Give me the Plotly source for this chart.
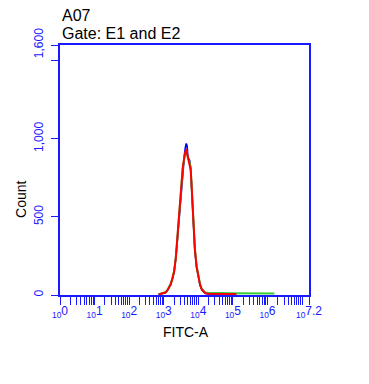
import plotly.graph_objects as go

# ---- data (log10 of FITC-A, counts) ----
exp_main = [2.85, 2.9, 2.95, 3.0, 3.05, 3.1, 3.15, 3.2, 3.25, 3.3, 3.35, 3.4, 3.45, 3.5,
            3.55, 3.6, 3.625, 3.65, 3.675, 3.7, 3.75, 3.78, 3.8, 3.85, 3.9, 3.95, 4.0,
            4.05, 4.1, 4.15, 4.2, 4.3, 4.4, 4.5, 4.6, 4.7, 4.8, 4.9, 5.0, 5.1]
red_counts = [3, 6, 9, 12, 16, 28, 45, 68, 105, 150, 240, 380, 530, 680,
              815, 890, 915, 935, 905, 880, 850, 800, 720, 460, 290, 180, 115,
              65, 35, 20, 12, 8, 7, 7, 6, 6, 7, 6, 6, 5]
blue_counts = [2, 5, 8, 11, 15, 27, 44, 66, 102, 148, 236, 375, 525, 675,
               820, 900, 945, 970, 955, 880, 860, 810, 715, 455, 285, 178, 112,
               62, 33, 18, 10, 6, 5, 4, 4, 3, 3, 3, 2, 2]

exp_green = [2.85, 2.9, 2.95, 3.0, 3.05, 3.1, 3.15, 3.2, 3.25, 3.3, 3.35, 3.4, 3.45, 3.5,
             3.55, 3.6, 3.625, 3.65, 3.675, 3.7, 3.75, 3.78, 3.8, 3.85, 3.9, 3.95, 4.0,
             4.05, 4.1, 4.15, 4.2, 4.3, 4.4, 4.5, 4.7, 4.9, 5.1, 5.3, 5.5, 5.7, 5.9, 6.1, 6.2]
green_counts = [5, 8, 10, 13, 17, 30, 47, 70, 107, 152, 242, 378, 528, 678,
                812, 885, 912, 930, 900, 875, 848, 805, 725, 468, 298, 186, 120,
                70, 40, 24, 16, 13, 12, 12, 13, 12, 12, 13, 12, 12, 13, 12, 10]

# ---- ticks ----
x_major_exp = [0, 1, 2, 3, 4, 5, 6, 7.2]
x_major_text = ["<sub>10</sub>0", "<sub>10</sub>1", "<sub>10</sub>2", "<sub>10</sub>3",
                "<sub>10</sub>4", "<sub>10</sub>5", "<sub>10</sub>6", "<sub>10</sub>7.2"]
y_tick_vals = [0, 500, 1000, 1500, 1600]
y_tick_text = ["0", "500", "1,000", "", "1,600"]

title_lines = ["A07", "Gate: E1 and E2"]
x_title = "FITC-A"
y_title = "Count"

BLUE = "#1a1aff"
FONT = "Liberation Sans, Arial, sans-serif"

# major + minor tick positions for the log axis
tick_vals = []
tick_text = []
for e, t in zip(x_major_exp, x_major_text):
    tick_vals.append(10 ** e)
    tick_text.append(t)
for d in range(0, 7):
    for m in range(2, 10):
        tick_vals.append(m * 10 ** d)
        tick_text.append("")
tick_vals.append(10 ** 7)
tick_text.append("")

fig = go.Figure()
fig.add_trace(go.Scatter(x=[10 ** e for e in exp_main], y=blue_counts, mode="lines",
                         line=dict(color="#0000ff", width=1.6), hoverinfo="skip"))
fig.add_trace(go.Scatter(x=[10 ** e for e in exp_green], y=green_counts, mode="lines",
                         line=dict(color="#33cc33", width=2), hoverinfo="skip"))
fig.add_trace(go.Scatter(x=[10 ** e for e in exp_main], y=red_counts, mode="lines",
                         line=dict(color="#ff0000", width=2), hoverinfo="skip"))

# page body has an 8px default margin, so the figure is 8px smaller each way
fig.update_layout(
    width=361, height=376,
    margin=dict(l=52, r=60, t=37, b=89, autoexpand=False),
    paper_bgcolor="white", plot_bgcolor="white",
    showlegend=False,
    font=dict(family=FONT),
)
fig.update_xaxes(
    type="log", range=[0, 7.2],
    tickmode="array", tickvals=tick_vals, ticktext=tick_text,
    ticks="outside", ticklen=8, tickwidth=1.2, tickcolor=BLUE,
    tickfont=dict(color=BLUE, size=12, family=FONT),
    ticklabelstandoff=-4,
    showline=True, linecolor=BLUE, linewidth=2, mirror=True,
    showgrid=False, zeroline=False, tickangle=0,
)
fig.update_yaxes(
    range=[0, 1600],
    tickmode="array", tickvals=y_tick_vals, ticktext=y_tick_text,
    ticks="outside", ticklen=7, tickwidth=1.2, tickcolor=BLUE,
    tickfont=dict(color=BLUE, size=12, family=FONT),
    ticklabelstandoff=3,
    tickangle=-90,
    showline=True, linecolor=BLUE, linewidth=2, mirror=True,
    showgrid=False, zeroline=False,
)

fig.add_annotation(text=title_lines[0], xref="paper", yref="paper", x=0, y=1.118,
                   xanchor="left", yanchor="middle", showarrow=False,
                   font=dict(size=16, color="black"))
fig.add_annotation(text=title_lines[1], xref="paper", yref="paper", x=0, y=1.044,
                   xanchor="left", yanchor="middle", showarrow=False,
                   font=dict(size=16, color="black"))
fig.add_annotation(text=y_title, xref="paper", yref="paper", x=-0.157, y=0.384,
                   xanchor="center", yanchor="middle", showarrow=False, textangle=-90,
                   font=dict(size=14, color="black"))
fig.add_annotation(text=x_title, xref="paper", yref="paper", x=0.506, y=-0.148,
                   xanchor="center", yanchor="middle", showarrow=False,
                   font=dict(size=14, color="black"))

fig.write_html("out.html")
